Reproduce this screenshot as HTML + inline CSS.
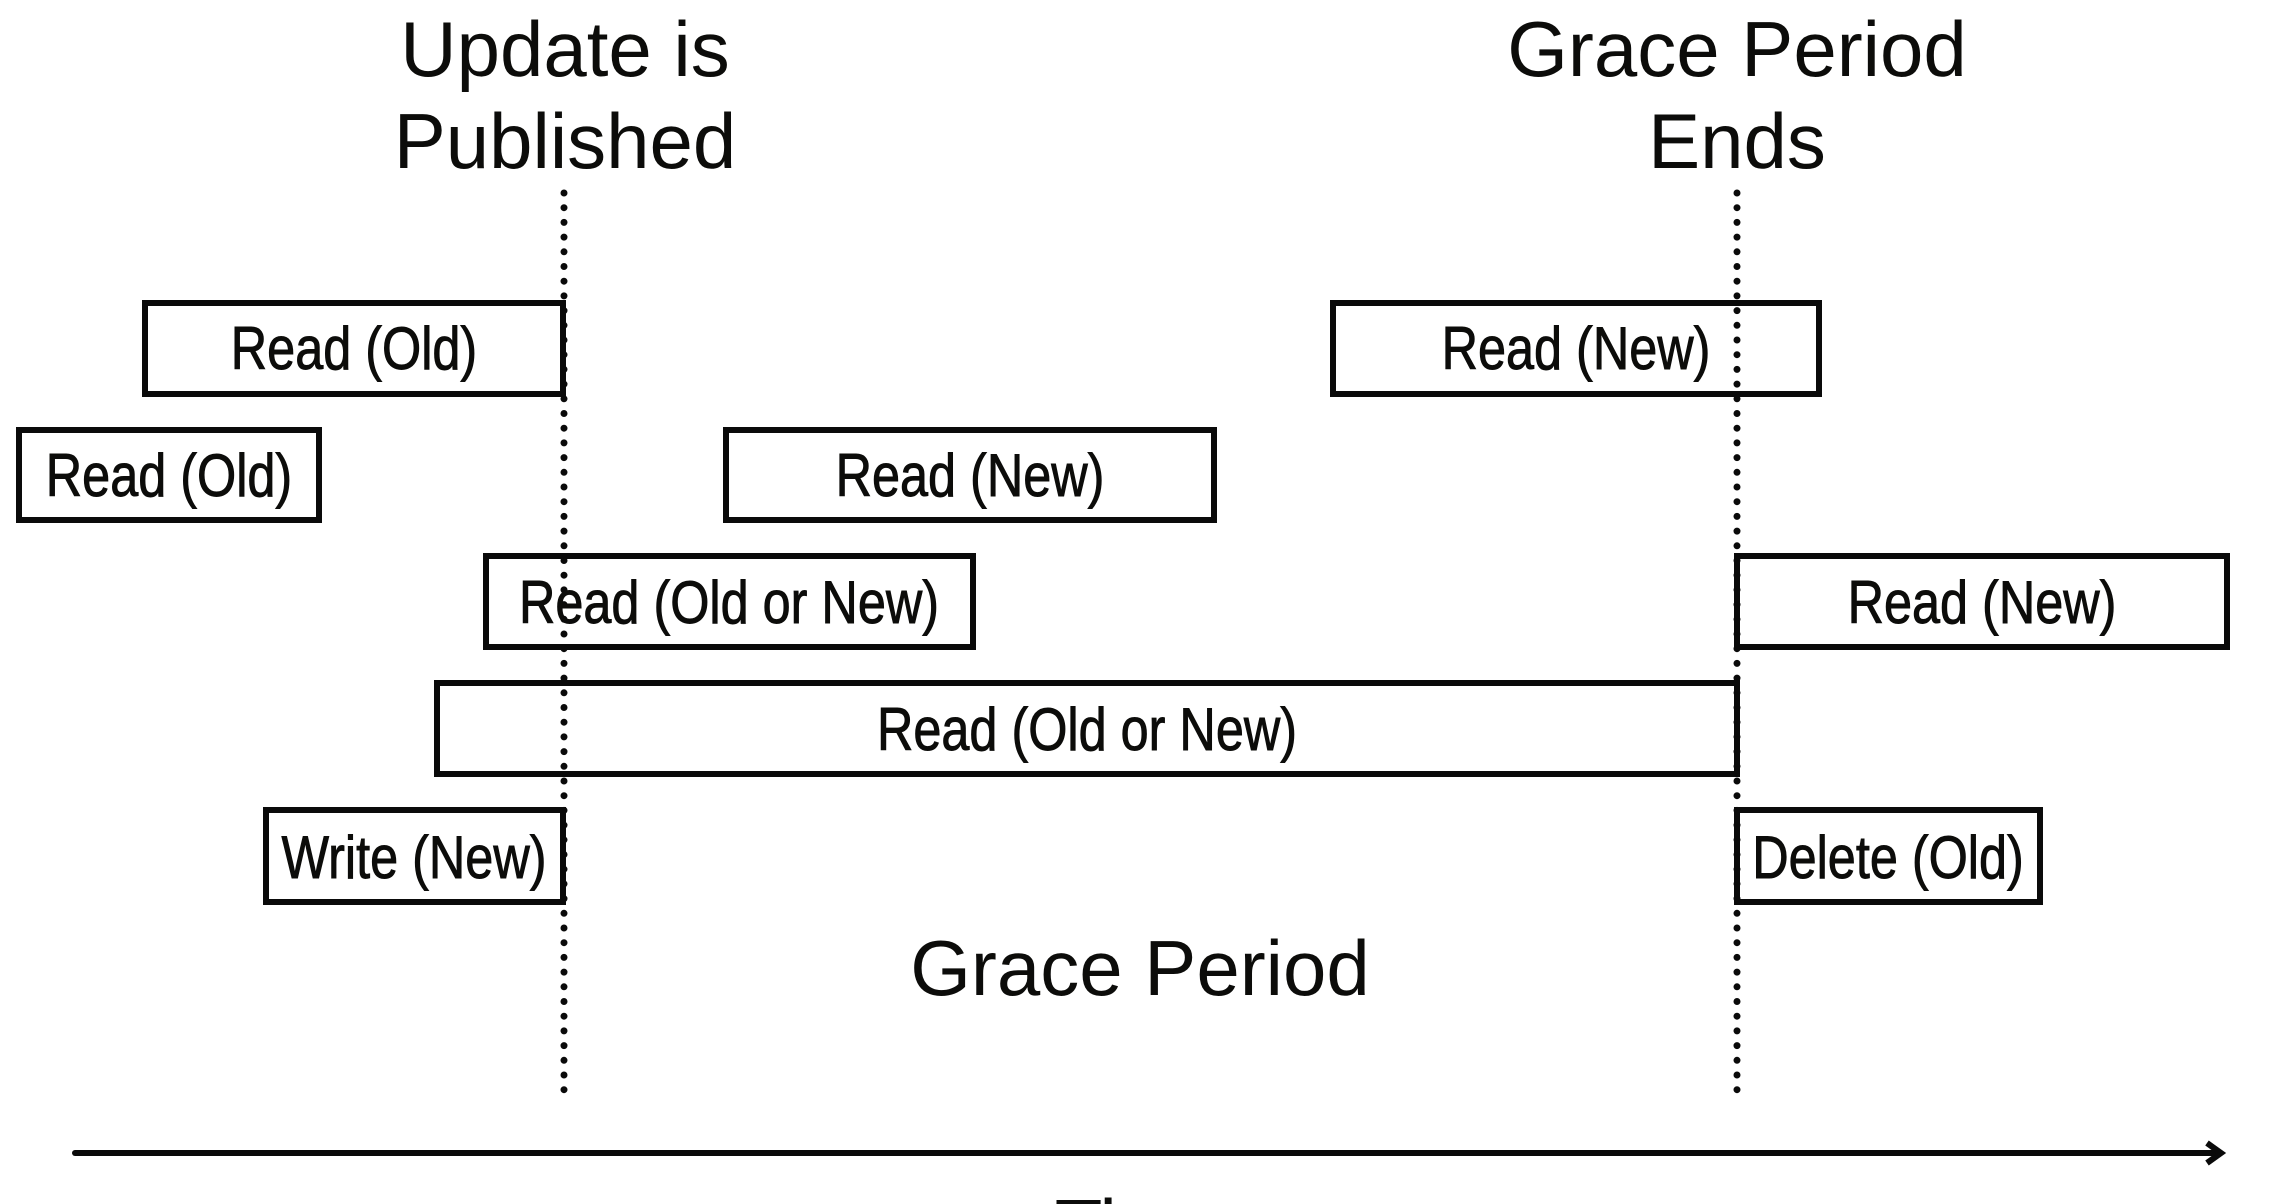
<!DOCTYPE html>
<html><head><meta charset="utf-8"><style>
html,body{margin:0;padding:0;background:#fff;width:2276px;height:1204px;overflow:hidden;}
svg{display:block;}
.h{font-family:"Liberation Sans",Arial,sans-serif;font-size:78px;fill:#0c0c0a;}
.b{font-family:"Liberation Sans",Arial,sans-serif;font-size:60px;fill:#0c0c0a;stroke:#0c0c0a;stroke-width:0.9;}
</style></head><body>
<svg width="2276" height="1204" viewBox="0 0 2276 1204" xmlns="http://www.w3.org/2000/svg">
<g fill="none" stroke="#0a0a0a" stroke-width="6">
<rect x="145" y="303" width="418" height="91"/>
<rect x="19" y="430" width="300" height="90"/>
<rect x="726" y="430" width="488" height="90"/>
<rect x="1333" y="303" width="486" height="91"/>
<rect x="486" y="556" width="487" height="91"/>
<rect x="1737" y="556" width="490" height="91"/>
<rect x="437" y="683" width="1300" height="91"/>
<rect x="266" y="810" width="297" height="92"/>
<rect x="1737" y="810" width="303" height="92"/>
</g>
<g stroke="#0a0a0a" stroke-width="7" stroke-linecap="round" stroke-dasharray="0 14.7">
<line x1="564" y1="193" x2="564" y2="1091"/>
<line x1="1737" y1="193" x2="1737" y2="1091"/>
</g>
<g stroke="#0a0a0a" stroke-width="6" fill="none">
<line x1="75" y1="1153" x2="2220" y2="1153" stroke-linecap="round"/>
<polyline points="2207,1143 2221,1153 2207,1163" stroke-linejoin="miter"/>
</g>
<g class="b" text-anchor="middle">
<text transform="translate(354,369) scale(0.84,1)">Read (Old)</text>
<text transform="translate(169,496) scale(0.84,1)">Read (Old)</text>
<text transform="translate(970,496) scale(0.84,1)">Read (New)</text>
<text transform="translate(1576,369) scale(0.84,1)">Read (New)</text>
<text transform="translate(729,623) scale(0.84,1)">Read (Old or New)</text>
<text transform="translate(1982,623) scale(0.84,1)">Read (New)</text>
<text transform="translate(1087,750) scale(0.84,1)">Read (Old or New)</text>
<text transform="translate(414,878) scale(0.84,1)">Write (New)</text>
<text transform="translate(1888,878) scale(0.84,1)">Delete (Old)</text>
</g>
<g class="h" text-anchor="middle">
<text x="565" y="76">Update is</text>
<text x="565" y="168">Published</text>
<text x="1737" y="76">Grace Period</text>
<text x="1737" y="168">Ends</text>
<text x="1140" y="995">Grace Period</text>
<text x="1140" y="1254">Time</text>
</g>
</svg>
</body></html>
